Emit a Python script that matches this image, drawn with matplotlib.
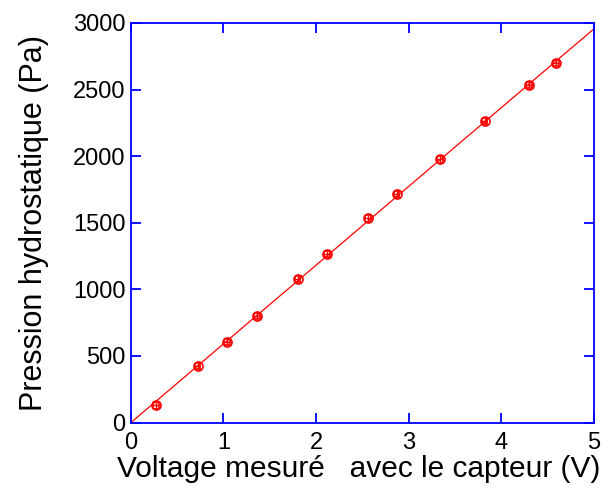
import matplotlib
matplotlib.use("Agg")
import numpy as np
import matplotlib.pyplot as plt

plt.rcParams['font.family'] = ['Liberation Sans', 'DejaVu Sans']

# mesures
voltage = [0.27, 0.72, 1.04, 1.36, 1.80, 2.12, 2.56, 2.87, 3.34, 3.82, 4.30, 4.59]
pression = [129, 424, 604, 800, 1077, 1265, 1533, 1715, 1976, 2263, 2534, 2699]
err_p = [25] * len(pression)
err_v = [0.03] * len(voltage)

# droite d'ajustement
fit_x = [0, 5]
fit_y = [0, 2955]

fig = plt.figure(figsize=(6.06, 4.88), dpi=100)
ax = fig.add_axes([0.216, 0.134, 0.764, 0.819])

ax.plot(fit_x, fit_y, color='red', linewidth=0.9)
ax.errorbar(voltage, pression, yerr=err_p, xerr=err_v, fmt='o', color='red',
            markerfacecolor='none', markersize=6.5, markeredgewidth=1.2,
            elinewidth=1.0, capsize=2.5)

ax.set_xlim(0, 5)
ax.set_ylim(0, 3000)
ax.set_xticks(np.arange(0, 6, 1))
ax.set_yticks(np.arange(0, 3001, 500))

for s in ax.spines.values():
    s.set_color('blue')
    s.set_linewidth(1.3)
ax.tick_params(direction='in', length=7.5, width=1.3, color='blue',
               labelsize=17, top=True, right=True)
ax.tick_params(axis='x', pad=7)
ax.tick_params(axis='y', pad=4)

ax.set_xlabel("Voltage mesuré   avec le capteur (V)", fontsize=21.5)
ax.xaxis.set_label_coords(0.4914, -0.082)
ax.set_ylabel("Pression hydrostatique (Pa)", fontsize=22, labelpad=17)

fig.savefig("out.png", dpi=100)
